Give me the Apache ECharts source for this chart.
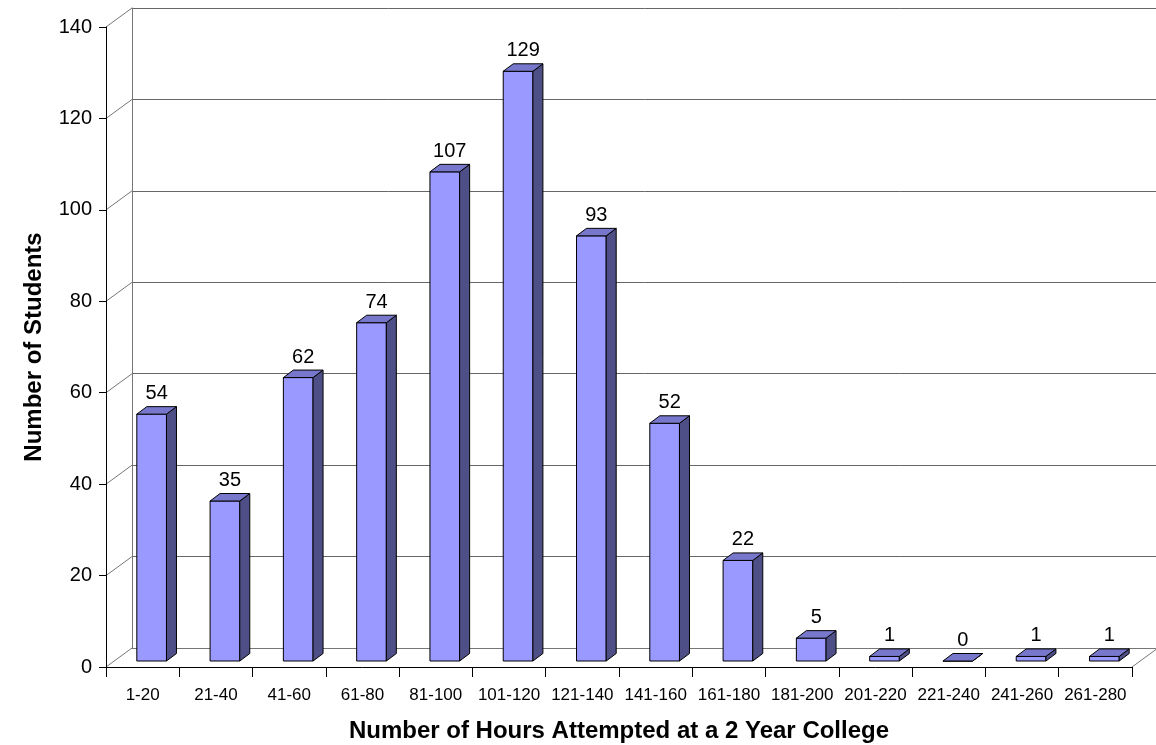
<!DOCTYPE html>
<html>
<head>
<meta charset="utf-8">
<script src="https://cdn.jsdelivr.net/npm/echarts@6/dist/echarts.min.js"></script>
<style>
  html, body { margin: 0; padding: 0; background: #fff; }
  #chart { width: 1156px; height: 745px; }
</style>
</head>
<body>
<div id="chart"></div>
<script>
const categories = ['1-20', '21-40', '41-60', '61-80', '81-100', '101-120', '121-140',
  '141-160', '161-180', '181-200', '201-220', '221-240', '241-260', '261-280'];
const students = [54, 35, 62, 74, 107, 129, 93, 52, 22, 5, 1, 0, 1, 1];
const yTicks = [0, 20, 40, 60, 80, 100, 120, 140];

const FONT = '"Liberation Sans", Arial, sans-serif';
// wall depth offset (front plane -> back wall)
const WALL_DX = 26;
const WALL_DY = -19;
// bar placement inside the depth
const BAR_SX = 9;
const BAR_SY = -6;
const BAR_DX = 10;
const BAR_DY = -7.5;

const chart = echarts.init(document.getElementById('chart'));

function renderBar(params, api) {
  const i = api.value(0);
  const v = api.value(1);
  const base = api.coord([i, 0]);
  const top = api.coord([i, v]);
  const w = api.size([1, 0])[0] * 0.405;
  const x0 = base[0] + BAR_SX - w / 2;
  const x1 = x0 + w;
  const yb = base[1] + BAR_SY;
  const yt = top[1] + BAR_SY;
  const stroke = { stroke: '#000', lineWidth: 1 };
  return {
    type: 'group',
    children: [
      {
        type: 'polygon',
        shape: { points: [[x0, yb], [x1, yb], [x1, yt], [x0, yt]] },
        style: Object.assign({ fill: '#9999FF' }, stroke)
      },
      {
        type: 'polygon',
        shape: { points: [[x1, yb], [x1 + BAR_DX, yb + BAR_DY], [x1 + BAR_DX, yt + BAR_DY], [x1, yt]] },
        style: Object.assign({ fill: '#4F4F87' }, stroke)
      },
      {
        type: 'polygon',
        shape: { points: [[x0, yt], [x1, yt], [x1 + BAR_DX, yt + BAR_DY], [x0 + BAR_DX, yt + BAR_DY]] },
        style: Object.assign({ fill: '#7777CC' }, stroke)
      },
      {
        type: 'text',
        style: {
          text: String(v),
          x: (x0 + x1) / 2 + BAR_DX / 2,
          y: yt + BAR_DY - 3,
          align: 'center',
          verticalAlign: 'bottom',
          font: '20px ' + FONT,
          fill: '#000'
        }
      }
    ]
  };
}

function renderWall(params, api) {
  const v = api.value(0);
  const cs = params.coordSys;
  const y = api.coord([0, v])[1];
  const children = [{
    type: 'line',
    shape: { x1: cs.x, y1: y, x2: cs.x + WALL_DX, y2: y + WALL_DY },
    style: { stroke: '#777', lineWidth: 1 }
  }];
  if (v === 0) {
    children.push({
      type: 'line',
      shape: { x1: cs.x + cs.width, y1: y, x2: cs.x + cs.width + WALL_DX, y2: y + WALL_DY },
      style: { stroke: '#777', lineWidth: 1 }
    });
  }
  return { type: 'group', children };
}

const option = {
  animation: false,
  backgroundColor: '#fff',
  textStyle: { fontFamily: FONT },
  grid: [
    { left: 106, right: 24, top: 27, bottom: 78, outerBoundsMode: 'none' },
    { left: 106 + WALL_DX, right: 24 - WALL_DX, top: 27 + WALL_DY, bottom: 78 - WALL_DY, outerBoundsMode: 'none' }
  ],
  xAxis: [
    {
      gridIndex: 0,
      type: 'category',
      data: categories,
      boundaryGap: true,
      axisLine: { lineStyle: { color: '#000', width: 1 } },
      axisTick: { show: true, interval: 0, length: 10, lineStyle: { color: '#000' } },
      axisLabel: { interval: 0, fontSize: 17, color: '#000', margin: 20, fontFamily: FONT },
      name: 'Number of Hours Attempted at a 2 Year College',
      nameLocation: 'middle',
      nameGap: 52,
      nameTextStyle: { fontSize: 24, fontWeight: 'bold', color: '#000', fontFamily: FONT },
      z: 5
    },
    {
      gridIndex: 1,
      type: 'category',
      data: categories,
      boundaryGap: true,
      axisLine: { lineStyle: { color: '#777', width: 1 } },
      axisTick: { show: false },
      axisLabel: { show: false }
    }
  ],
  yAxis: [
    {
      gridIndex: 0,
      type: 'value',
      min: 0,
      max: 140,
      interval: 20,
      axisLine: { show: true, lineStyle: { color: '#000', width: 1 } },
      axisTick: { show: true, length: 7, lineStyle: { color: '#000' } },
      axisLabel: { fontSize: 20, color: '#000', margin: 14, fontFamily: FONT },
      splitLine: { show: false },
      name: 'Number of Students',
      nameLocation: 'middle',
      nameRotate: 90,
      nameGap: 60,
      nameTextStyle: { fontSize: 24, fontWeight: 'bold', color: '#000', fontFamily: FONT },
      z: 5
    },
    {
      gridIndex: 1,
      type: 'value',
      min: 0,
      max: 140,
      interval: 20,
      axisLine: { show: true, lineStyle: { color: '#777', width: 1 } },
      axisTick: { show: false },
      axisLabel: { show: false },
      splitLine: { show: true, lineStyle: { color: '#666', width: 1 } }
    }
  ],
  series: [
    {
      type: 'custom',
      xAxisIndex: 0,
      yAxisIndex: 0,
      renderItem: renderWall,
      data: yTicks.map(v => [v]),
      silent: true,
      z: 1
    },
    {
      type: 'custom',
      xAxisIndex: 0,
      yAxisIndex: 0,
      renderItem: renderBar,
      data: students.map((v, i) => [i, v]),
      z: 3
    }
  ]
};

chart.setOption(option);
</script>
</body>
</html>
